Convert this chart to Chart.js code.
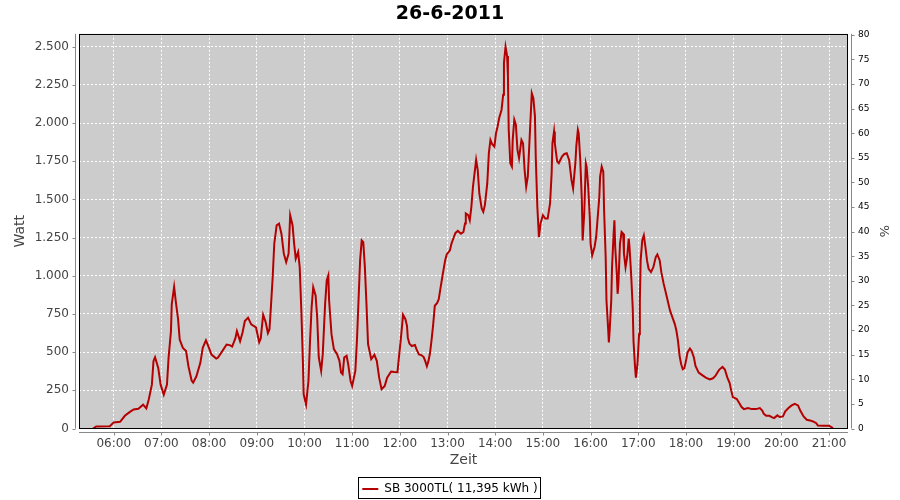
<!DOCTYPE html>
<html>
<head>
<meta charset="utf-8">
<script src="https://cdn.jsdelivr.net/npm/chart.js@4.4.1/dist/chart.umd.min.js"></script>
<style>
html, body { margin: 0; padding: 0; background: #fff; }
#wrap { width: 900px; height: 500px; }
</style>
</head>
<body>
<div id="wrap"><canvas id="myChart"></canvas></div>
<script>
const chartTitle = '26-6-2011';
const seriesName = 'SB 3000TL( 11,395 kWh )';

const times = [
  '05:34','05:38','05:55','06:00','06:08','06:14','06:20','06:25','06:31','06:37',
  '06:41','06:44','06:48','06:50','06:52','06:56','06:59','07:03','07:07','07:09',
  '07:12','07:13','07:16','07:18','07:21','07:23','07:27','07:31','07:34','07:38',
  '07:40','07:44','07:49','07:52','07:56','07:59','08:03','08:09','08:11','08:16',
  '08:22','08:26','08:29','08:33','08:35','08:39','08:42','08:45','08:49','08:53',
  '08:59','09:03','09:05','09:08','09:11','09:14','09:16','09:18','09:20','09:22',
  '09:25','09:28','09:31','09:34','09:37','09:40','09:42','09:45','09:47','09:49',
  '09:52','09:54','09:56','09:58','09:59','10:02','10:05','10:07','10:09','10:11',
  '10:14','10:16','10:18','10:21','10:23','10:26','10:28','10:30','10:31','10:34',
  '10:37','10:41','10:44','10:46','10:48','10:50','10:53','10:55','10:58','11:00',
  '11:04','11:06','11:08','11:10','11:12','11:14','11:16','11:18','11:20','11:24',
  '11:28','11:31','11:34','11:37','11:41','11:44','11:49','11:53','11:57','11:59',
  '12:01','12:03','12:04','12:07','12:09','12:10','12:12','12:15','12:19','12:21',
  '12:24','12:27','12:30','12:32','12:34','12:36','12:38','12:40','12:42','12:44',
  '12:47','12:49','12:51','12:54','12:57','12:59','13:03','13:05','13:08','13:10',
  '13:13','13:17','13:20','13:22','13:23','13:26','13:28','13:30','13:32','13:34',
  '13:36','13:38','13:40','13:43','13:45','13:47','13:50','13:52','13:54','13:56',
  '13:59','14:01','14:03','14:05','14:08','14:10','14:11','14:13','14:15','14:16',
  '14:17','14:19','14:21','14:22','14:24','14:26','14:28','14:30','14:33','14:35',
  '14:37','14:39','14:41','14:43','14:45','14:46','14:48','14:50','14:51','14:53',
  '14:55','14:57','15:00','15:03','15:06','15:09','15:11','15:12','15:14','15:15',
  '15:18','15:20','15:24','15:27','15:30','15:33','15:36','15:38','15:41','15:42',
  '15:44','15:45','15:47','15:49','15:50','15:52','15:54','15:55','15:57','15:59',
  '16:00','16:02','16:05','16:07','16:09','16:11','16:12','16:14','16:16','16:17',
  '16:19','16:20','16:22','16:23','16:24','16:26','16:27','16:29','16:30','16:31',
  '16:33','16:34','16:35','16:37','16:39','16:41','16:42','16:44','16:46','16:48',
  '16:49','16:51','16:53','16:54','16:56','16:57','16:59','17:01','17:02','17:03',
  '17:05','17:07','17:09','17:11','17:13','17:16','17:19','17:22','17:24','17:27',
  '17:29','17:32','17:35','17:38','17:40','17:43','17:46','17:48','17:50','17:52',
  '17:54','17:56','17:58','18:00','18:02','18:05','18:07','18:10','18:12','18:16',
  '18:20','18:25','18:30','18:34','18:37','18:40','18:42','18:46','18:49','18:52',
  '18:55','18:57','18:59','19:04','19:07','19:10','19:13','19:18','19:23','19:28',
  '19:33','19:36','19:38','19:41','19:45','19:48','19:51','19:55','19:58','20:02',
  '20:05','20:09','20:13','20:17','20:21','20:24','20:28','20:32','20:36','20:40',
  '20:44','20:46','20:53','21:00','21:05'
];

const watts = [
  0, 13, 15, 40, 44, 83, 107, 125, 129, 156,
  132, 189, 287, 441, 467, 397, 287, 222, 287, 463,
  638, 814, 928, 836, 715, 583, 528, 507, 408, 314,
  300, 342, 430, 528, 577, 539, 484, 458, 463, 502,
  550, 546, 537, 590, 638, 572, 627, 704, 726, 682,
  662, 565, 590, 745, 700, 625, 650, 816, 991, 1210,
  1331, 1342, 1276, 1145, 1090, 1145, 1397, 1331, 1210, 1112,
  1156, 1057, 783, 443, 224, 158, 311, 575, 794, 925,
  871, 728, 465, 377, 487, 816, 969, 1002, 838, 618,
  520, 487, 443, 366, 355, 465, 476, 421, 311, 279,
  377, 575, 838, 1101, 1232, 1221, 1057, 816, 553, 454,
  482, 443, 333, 257, 279, 333, 373, 370, 369, 474,
  573, 683, 745, 716, 672, 595, 556, 540, 547, 518,
  485, 481, 468, 441, 408, 441, 496, 584, 683, 804,
  822, 848, 914, 1010, 1101, 1140, 1167, 1211, 1254, 1281,
  1294, 1276, 1287, 1342, 1408, 1397, 1364, 1452, 1583, 1671,
  1759, 1693, 1539, 1441, 1419, 1463, 1605, 1803, 1890, 1864,
  1846, 1934, 1978, 2033, 2088, 2186, 2395, 2500, 2439, 2307,
  1956, 1737, 1715, 1890, 2022, 1989, 1825, 1770, 1890, 1868,
  1693, 1583, 1649, 1868, 2088, 2197, 2164, 2044, 1781, 1452,
  1254, 1342, 1397, 1375, 1375, 1474, 1671, 1868, 1945, 1868,
  1748, 1737, 1781, 1798, 1803, 1759, 1627, 1572, 1748, 1846,
  1956, 1934, 1759, 1496, 1232, 1408, 1737, 1715, 1583, 1386,
  1211, 1134, 1189, 1254, 1386, 1518, 1649, 1715, 1682, 1430,
  1123, 838, 662, 564, 640, 838, 1057, 1276, 1364, 1189,
  1013, 882, 947, 1211, 1287, 1276, 1145, 1057, 1123, 1243,
  1189, 1013, 794, 574, 399, 333, 421, 618, 838, 1101,
  1232, 1265, 1189, 1101, 1046, 1024, 1057, 1123, 1140, 1101,
  1024, 947, 882, 816, 772, 728, 684, 640, 574, 476,
  421, 388, 395, 443, 498, 524, 509, 465, 410, 366,
  351, 333, 322, 329, 344, 370, 386, 403, 386, 335,
  298, 248, 206, 193, 167, 140, 127, 134, 127, 127,
  134, 118, 96, 83, 83, 75, 68, 86, 75, 79,
  112, 134, 151, 162, 151, 116, 79, 57, 53, 46,
  35, 20, 18, 18, 2
];

const hourLabels = ['06:00','07:00','08:00','09:00','10:00','11:00','12:00','13:00',
  '14:00','15:00','16:00','17:00','18:00','19:00','20:00','21:00'];

const toMin = s => { const p = s.split(':'); return (+p[0]) * 60 + (+p[1]); };
const points = times.map((t, i) => ({ x: toMin(t), y: watts[i] }));

// german thousands separator, e.g. 2.500
const fmtWatt = v => String(v).replace(/\B(?=(\d{3})+(?!\d))/g, '.');

Chart.defaults.font.family = "'DejaVu Sans', sans-serif";

const plotFrame = {
  id: 'plotFrame',
  beforeDraw(chart) {
    const { ctx, chartArea: a } = chart;
    ctx.save();
    ctx.fillStyle = '#cccccc';
    ctx.fillRect(a.left, a.top, a.right - a.left, a.bottom - a.top);
    ctx.restore();
  },
  afterDraw(chart) {
    const { ctx, chartArea: a, scales } = chart;
    ctx.save();
    ctx.lineWidth = 1;
    ctx.strokeStyle = '#000';
    ctx.strokeRect(Math.round(a.left) + 0.5, Math.round(a.top) + 0.5,
      Math.round(a.right - a.left) - 1, Math.round(a.bottom - a.top) - 1);

    // offset axis lines with small outside ticks
    ctx.strokeStyle = '#888';
    ctx.beginPath();
    const lx = Math.round(a.left) - 3.5;
    ctx.moveTo(lx, a.top); ctx.lineTo(lx, a.bottom);
    scales.y.ticks.forEach(t => {
      const py = Math.round(scales.y.getPixelForValue(t.value)) + 0.5;
      ctx.moveTo(lx, py); ctx.lineTo(lx - 3, py);
    });
    const rx = Math.round(a.right) + 3.5;
    ctx.moveTo(rx, a.top); ctx.lineTo(rx, a.bottom);
    scales.y1.ticks.forEach(t => {
      const py = Math.round(scales.y1.getPixelForValue(t.value)) + 0.5;
      ctx.moveTo(rx, py); ctx.lineTo(rx + 3, py);
    });
    const by = Math.round(a.bottom) + 3.5;
    ctx.moveTo(a.left, by); ctx.lineTo(a.right, by);
    scales.x.ticks.forEach(t => {
      const px = Math.round(scales.x.getPixelForValue(t.value)) + 0.5;
      ctx.moveTo(px, by); ctx.lineTo(px, by + 3);
    });
    ctx.stroke();

    // legend frame
    const hb = chart.legend.legendHitBoxes[0];
    if (hb) {
      const cy = Math.round(hb.top + hb.height / 2);
      const top = Math.min(cy - 11, chart.height - 23) + 0.5;
      ctx.strokeStyle = '#000';
      ctx.strokeRect(Math.round(hb.left) - 3.5, top, Math.round(hb.width) + 7, 21);
    }
    ctx.restore();
  }
};

new Chart(document.getElementById('myChart'), {
  type: 'line',
  data: {
    datasets: [{
      label: seriesName,
      data: points,
      borderColor: '#b40000',
      backgroundColor: '#b40000',
      borderWidth: 2,
      pointRadius: 0,
      tension: 0,
      yAxisID: 'y'
    }]
  },
  options: {
    responsive: true,
    maintainAspectRatio: false,
    animation: false,
    devicePixelRatio: 1,
    layout: { padding: { top: 0, right: 0, bottom: -5, left: 0 } },
    plugins: {
      title: {
        display: true,
        text: chartTitle,
        color: '#000',
        font: { size: 19, weight: 'bold' },
        padding: { top: 3, bottom: 8 }
      },
      legend: {
        position: 'bottom',
        labels: {
          usePointStyle: true,
          pointStyle: 'line',
          pointStyleWidth: 16,
          color: '#000',
          font: { size: 12 },
          padding: 3
        }
      },
      tooltip: { enabled: false }
    },
    scales: {
      x: {
        type: 'linear',
        min: 316.3,
        max: 1283.9,
        afterFit(s) { s.height = 51.5; },
        ticks: {
          stepSize: 60,
          includeBounds: false,
          autoSkip: false,
          maxRotation: 0,
          padding: 8,
          color: '#444',
          font: { size: 12 },
          callback: v => hourLabels[(v - 360) / 60]
        },
        grid: { color: '#ffffff', drawTicks: false },
        border: { display: false, dash: [2, 2] },
        title: { display: true, text: 'Zeit', color: '#444', font: { size: 14 }, padding: { top: 0, bottom: 11.5 } }
      },
      y: {
        position: 'left',
        min: 0,
        max: 2585,
        afterFit(s) { s.width = 79; },
        ticks: {
          stepSize: 250,
          includeBounds: false,
          padding: 10,
          color: '#444',
          font: { size: 12 },
          callback: v => fmtWatt(v)
        },
        grid: { color: '#ffffff', drawTicks: false },
        border: { display: false, dash: [2, 2] },
        title: { display: true, text: 'Watt', color: '#444', font: { size: 14 }, padding: { top: 12, bottom: 0 } }
      },
      y1: {
        position: 'right',
        min: 0,
        max: 80.2,
        afterFit(s) { s.width = 52; },
        ticks: {
          stepSize: 5,
          includeBounds: false,
          padding: 10,
          color: '#000',
          font: { size: 9 }
        },
        grid: { drawOnChartArea: false, drawTicks: false },
        border: { display: false },
        title: { display: true, text: '%', color: '#444', font: { size: 13 }, padding: { top: 9, bottom: 0 } }
      }
    }
  },
  plugins: [plotFrame]
});
</script>
</body>
</html>
